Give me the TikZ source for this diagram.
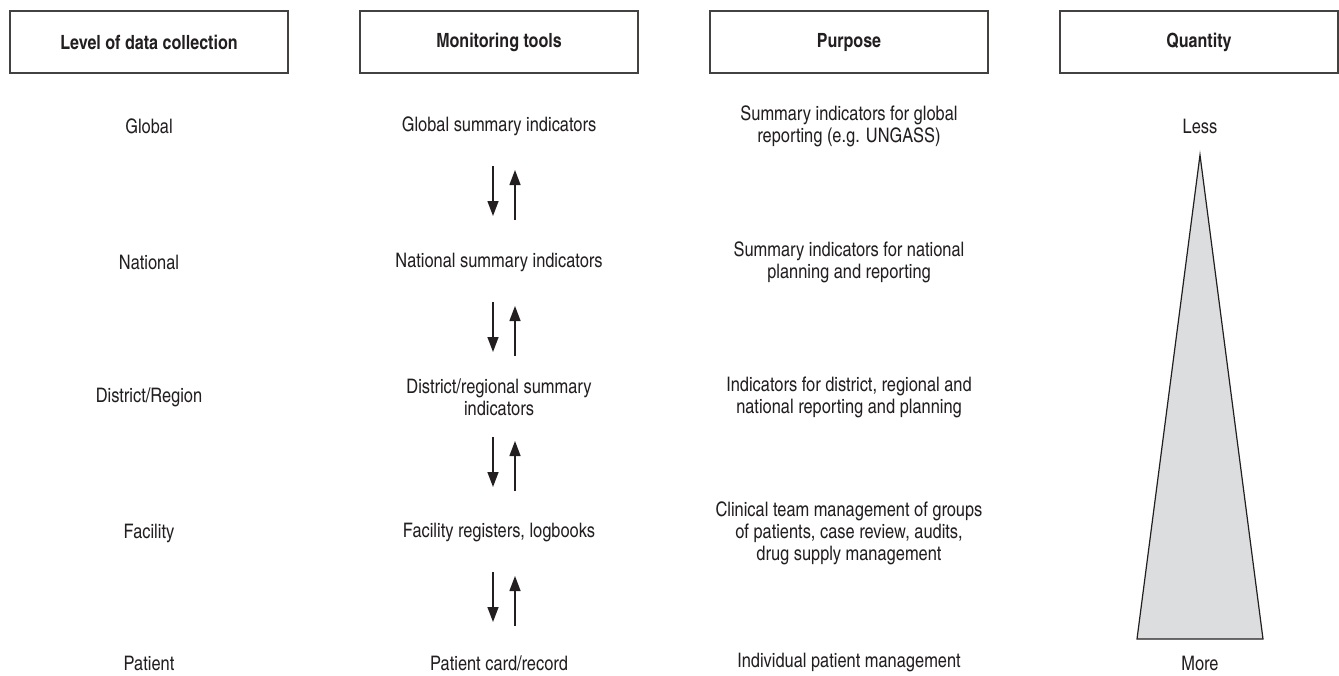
\documentclass[tikz,border=0pt]{standalone}
\usepackage{fontspec}
\setmainfont{texgyreheroscn}[Extension=.otf, UprightFont=*-regular, BoldFont=*-bold]
\usetikzlibrary{arrows.meta}
\definecolor{ink}{HTML}{231F20}
\definecolor{pyramid}{HTML}{DCDDDF}
\begin{document}
\begin{tikzpicture}[x=0.5pt,y=-0.5pt,
  every node/.style={text=ink, font=\fontsize{10}{11}\selectfont, align=center, inner sep=0pt},
  head/.style={draw=ink!85, line width=0.75pt, minimum width=139pt, minimum height=31pt,
               font=\fontsize{9.8}{11}\selectfont\bfseries},
  flow/.style={draw=ink, line width=0.7pt, -{Triangle[length=7.5pt,width=5.5pt]}},
]
\useasboundingbox (0,0) rectangle (1339,675);

% column headers
\node[head] (h1) at (149,42) {Level of data collection};
\node[head] (h2) at (499,42) {Monitoring tools};
\node[head] (h3) at (849,42) {Purpose};
\node[head] (h4) at (1199,42) {Quantity};

% level of data collection
\node (l1) at (149,126) {Global};
\node (l2) at (149,262) {National};
\node (l3) at (149,397) {District/Region};
\node (l4) at (149,533) {Facility};
\node (l5) at (149,663) {Patient};

% monitoring tools
\node (t1) at (499,126) {Global summary indicators};
\node (t2) at (499,262) {National summary indicators};
\node (t3) at (499,397) {District/regional summary\\indicators};
\node (t4) at (499,533) {Facility registers, logbooks};
\node (t5) at (499,663) {Patient card/record};

% purpose
\node (p1) at (849,126) {Summary indicators for global\\reporting (e.g. UNGASS)};
\node (p2) at (849,262) {Summary indicators for national\\planning and reporting};
\node (p3) at (849,397) {Indicators for district, regional and\\national reporting and planning};
\node (p4) at (849,533) {Clinical team management of groups\\of patients, case review, audits,\\drug supply management};
\node (p5) at (849,663) {Individual patient management};

% quantity
\node (less) at (1200,126) {Less};
\node (more) at (1200,663) {More};

% data flowing down and feedback flowing up between tool levels
\foreach \m [count=\i] in {194,330,465,600} {
  \coordinate (dn\i a) at (493,{\m-28});
  \coordinate (dn\i b) at (493,{\m+22});
  \coordinate (up\i a) at (515,{\m+26});
  \coordinate (up\i b) at (515,{\m-24});
  \draw[flow] (dn\i a) -- (dn\i b);
  \draw[flow] (up\i a) -- (up\i b);
}

% quantity pyramid
\draw[draw=ink, fill=pyramid, line width=0.6pt, line join=miter]
  (1200,155) -- (1263,639) -- (1137,639) -- cycle;
\end{tikzpicture}
\end{document}
